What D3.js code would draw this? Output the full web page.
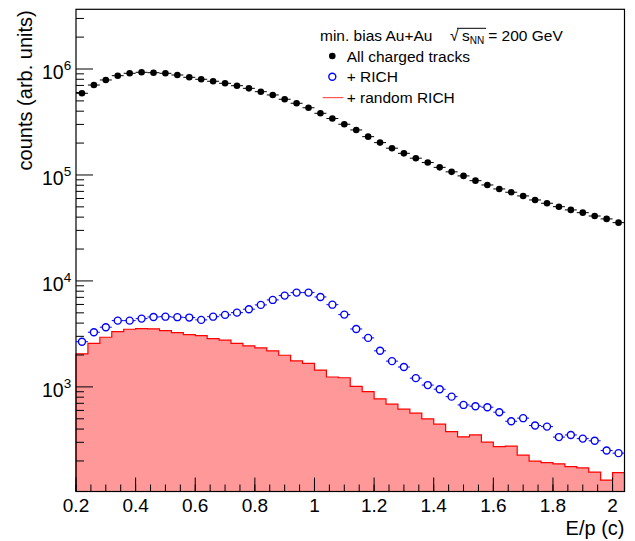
<!DOCTYPE html>
<html>
<head>
<meta charset="utf-8">
<script src="https://cdn.jsdelivr.net/npm/d3@7"></script>
<style>
  html, body { margin: 0; padding: 0; background: #fff; }
  svg { display: block; font-family: "Liberation Sans", Arial, sans-serif; }
</style>
</head>
<body>
<svg id="chart" width="635" height="541"></svg>
<script>
// ---- data ----
const binCenters = [0.22, 0.26, 0.30, 0.34, 0.38, 0.42, 0.46, 0.50, 0.54, 0.58,
  0.62, 0.66, 0.70, 0.74, 0.78, 0.82, 0.86, 0.90, 0.94, 0.98,
  1.02, 1.06, 1.10, 1.14, 1.18, 1.22, 1.26, 1.30, 1.34, 1.38,
  1.42, 1.46, 1.50, 1.54, 1.58, 1.62, 1.66, 1.70, 1.74, 1.78,
  1.82, 1.86, 1.90, 1.94, 1.98, 2.02];
const binHalfWidth = 0.02;

const allTracks = [590000, 706000, 788000, 865000, 911000, 931000, 923000, 911000, 878000, 835000,
  800000, 766000, 733000, 696000, 657000, 611000, 569000, 518000, 475000, 431000,
  382000, 341000, 301000, 266000, 230000, 202000, 179000, 160000, 144000, 131000,
  118000, 107000, 98000, 88400, 80500, 73800, 68700, 63400, 58100, 54100,
  50200, 46800, 44100, 41000, 38500, 35500];

const withRich = [2670, 3280, 3660, 4220, 4220, 4410, 4570, 4600, 4550, 4510,
  4290, 4600, 4780, 5020, 5410, 5940, 6620, 7270, 7760, 7760,
  7060, 5970, 4810, 3520, 2900, 2190, 1750, 1540, 1210, 1040,
  951, 809, 676, 657, 643, 577, 474, 507, 432, 422,
  336, 352, 325, 310, 251, 237];

const randomRich = [2050, 2580, 2940, 3330, 3500, 3550, 3530, 3400, 3250, 3110,
  3050, 2860, 2760, 2580, 2440, 2330, 2190, 1990, 1760, 1670,
  1440, 1240, 1220, 1010, 904, 771, 687, 616, 565, 499,
  445, 379, 338, 352, 301, 273, 276, 227, 199, 193,
  188, 177, 172, 157, 132, 155];

const xDomain = [0.2, 2.04];
const yDomain = [103, 3.66e6];
const xTickMajor = [0.2, 0.4, 0.6, 0.8, 1.0, 1.2, 1.4, 1.6, 1.8, 2.0];
const xTickLabels = ["0.2", "0.4", "0.6", "0.8", "1", "1.2", "1.4", "1.6", "1.8", "2"];
const yDecades = [1e3, 1e4, 1e5, 1e6];
const yDecadeExp = ["3", "4", "5", "6"];

const legendTitle = "min. bias Au+Au";
const legendLabels = ["All charged tracks", "+ RICH", "+ random RICH"];
const xTitle = "E/p (c)";
const yTitle = "counts (arb. units)";

// ---- layout ----
const L = 76, R = 624.5, T = 9.3, B = 491.5;
const svg = d3.select("#chart");
const x = d3.scaleLinear().domain(xDomain).range([L, R]);
const y = d3.scaleLog().domain(yDomain).range([B, T]);

// histogram (random RICH)
const histPts = [[x(xDomain[0]), B]];
binCenters.forEach((c, i) => {
  histPts.push([x(c - binHalfWidth), y(randomRich[i])]);
  histPts.push([x(c + binHalfWidth), y(randomRich[i])]);
});
histPts.push([x(binCenters[binCenters.length - 1] + binHalfWidth), B]);
svg.append("path")
  .attr("d", d3.line()(histPts) + "Z")
  .attr("fill", "#ff9999")
  .attr("stroke", "none");
svg.append("path")
  .attr("d", d3.line()(histPts))
  .attr("fill", "none")
  .attr("stroke", "#ff0000")
  .attr("stroke-width", 1.2);

// x ticks (inside)
const xMinor = d3.range(0.2, 2.0401, 0.05).filter(v => v <= xDomain[1] + 1e-9);
svg.append("g").selectAll("line").data(xMinor).join("line")
  .attr("x1", d => x(d)).attr("x2", d => x(d))
  .attr("y1", B).attr("y2", B - 7)
  .attr("stroke", "#000").attr("stroke-width", 1);
svg.append("g").selectAll("line").data(xTickMajor).join("line")
  .attr("x1", d => x(d)).attr("x2", d => x(d))
  .attr("y1", B).attr("y2", B - 14)
  .attr("stroke", "#000").attr("stroke-width", 1);
svg.append("g").selectAll("text").data(xTickMajor).join("text")
  .attr("x", d => x(d)).attr("y", 512)
  .attr("text-anchor", "middle")
  .attr("font-size", 19)
  .text((d, i) => xTickLabels[i]);

// y ticks (inside)
const yMinor = [];
[100, 1000, 10000, 100000, 1000000].forEach(dec => {
  for (let k = 2; k <= 9; k++) {
    const v = dec * k;
    if (v >= yDomain[0] && v <= yDomain[1]) yMinor.push(v);
  }
});
svg.append("g").selectAll("line").data(yMinor).join("line")
  .attr("x1", L).attr("x2", L + 8)
  .attr("y1", d => y(d)).attr("y2", d => y(d))
  .attr("stroke", "#000").attr("stroke-width", 1);
svg.append("g").selectAll("line").data(yDecades).join("line")
  .attr("x1", L).attr("x2", L + 17)
  .attr("y1", d => y(d)).attr("y2", d => y(d))
  .attr("stroke", "#000").attr("stroke-width", 1);
const yl = svg.append("g").selectAll("text").data(yDecades).join("text")
  .attr("x", 42).attr("y", d => y(d) + 10)
  .attr("font-size", 19.5);
yl.append("tspan").text("10");
yl.append("tspan").attr("dy", -9).attr("font-size", 13.5).text((d, i) => yDecadeExp[i]);

// frame
svg.append("rect")
  .attr("x", L).attr("y", T).attr("width", R - L).attr("height", B - T)
  .attr("fill", "none").attr("stroke", "#000").attr("stroke-width", 1.2);

// axis titles
svg.append("text")
  .attr("x", R).attr("y", 535)
  .attr("text-anchor", "end").attr("font-size", 20)
  .text(xTitle);
svg.append("text")
  .attr("transform", `translate(32, ${T + 1}) rotate(-90)`)
  .attr("text-anchor", "end").attr("font-size", 20)
  .text(yTitle);

// black points: all charged tracks
const gBlack = svg.append("g");
gBlack.selectAll("line").data(binCenters).join("line")
  .attr("x1", d => x(d - binHalfWidth)).attr("x2", d => x(d + binHalfWidth))
  .attr("y1", (d, i) => y(allTracks[i])).attr("y2", (d, i) => y(allTracks[i]))
  .attr("stroke", "#000").attr("stroke-width", 1);
gBlack.selectAll("circle").data(binCenters).join("circle")
  .attr("cx", d => x(d)).attr("cy", (d, i) => y(allTracks[i]))
  .attr("r", 3.3).attr("fill", "#000");

// blue points: + RICH
const rB = 3.5;
const gBlue = svg.append("g");
gBlue.selectAll("line.l").data(binCenters).join("line").attr("class", "l")
  .attr("x1", d => x(d - binHalfWidth)).attr("x2", d => x(d) - rB)
  .attr("y1", (d, i) => y(withRich[i])).attr("y2", (d, i) => y(withRich[i]))
  .attr("stroke", "#0000ff").attr("stroke-width", 1);
gBlue.selectAll("line.r").data(binCenters).join("line").attr("class", "r")
  .attr("x1", d => x(d) + rB).attr("x2", d => x(d + binHalfWidth))
  .attr("y1", (d, i) => y(withRich[i])).attr("y2", (d, i) => y(withRich[i]))
  .attr("stroke", "#0000ff").attr("stroke-width", 1);
gBlue.selectAll("circle").data(binCenters).join("circle")
  .attr("cx", d => x(d)).attr("cy", (d, i) => y(withRich[i]))
  .attr("r", rB).attr("fill", "none")
  .attr("stroke", "#0000ff").attr("stroke-width", 1.4);

// legend
const lg = svg.append("g").attr("font-size", 15.5);
lg.append("text").attr("x", 320).attr("y", 40.7).text(legendTitle);
const sq = lg.append("text").attr("x", 450).attr("y", 40.7);
sq.append("tspan").text("\u221A");
sq.append("tspan").attr("x", 462).text("s");
sq.append("tspan").attr("dy", 3.5).attr("font-size", 10).text("NN");
sq.append("tspan").attr("dy", -3.5).attr("dx", 4).text("= 200 GeV");
lg.append("line").attr("x1", 457).attr("x2", 486).attr("y1", 28.3).attr("y2", 28.3)
  .attr("stroke", "#000").attr("stroke-width", 1);

const legY = [56, 76.8, 97.6];
lg.append("circle").attr("cx", 332.3).attr("cy", legY[0]).attr("r", 3.3).attr("fill", "#000");
lg.append("circle").attr("cx", 332.3).attr("cy", legY[1]).attr("r", rB)
  .attr("fill", "none").attr("stroke", "#0000ff").attr("stroke-width", 1.4);
lg.append("line").attr("x1", 322.7).attr("x2", 343.3).attr("y1", legY[2]).attr("y2", legY[2])
  .attr("stroke", "#ff5555").attr("stroke-width", 1.2);
lg.selectAll("text.e").data(legendLabels).join("text").attr("class", "e")
  .attr("x", 346.7).attr("y", (d, i) => legY[i] + 5.5)
  .text(d => d);
</script>
</body>
</html>
